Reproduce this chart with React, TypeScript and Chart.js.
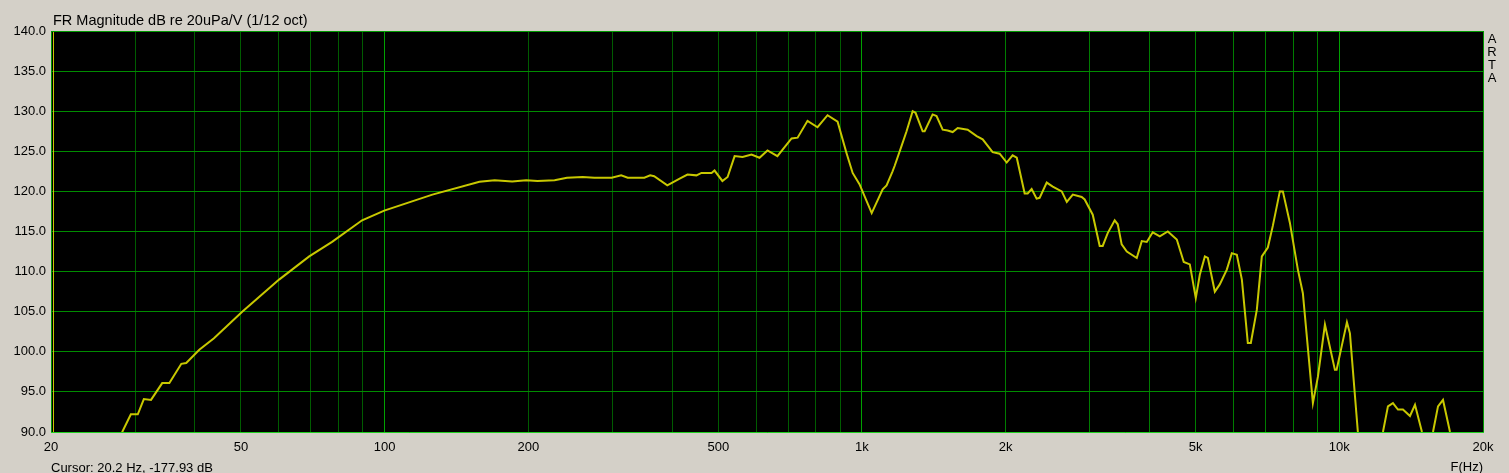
import React, { useEffect, useRef } from 'react';
import { Chart, registerables } from 'chart.js';

Chart.register(...registerables);

const TITLE = 'FR Magnitude dB re 20uPa/V (1/12 oct)';
const CURSOR_TEXT = 'Cursor: 20.2 Hz, -177.93 dB';
const CURSOR_HZ = 20.2;
const X_AXIS_TITLE = 'F(Hz)';
const BRAND_LETTERS = ['A', 'R', 'T', 'A'];

const FREQ_HZ = [
  20, 25, 28.2, 29.4, 30.4, 31.3, 32.4, 34.2, 35.4, 37.5, 38.4, 40.9, 43.9, 50.3, 60.1, 69.5, 77.6, 89.7, 99.8,
  125.9, 158, 170, 185, 198, 209, 227, 241, 260, 275, 299, 313, 323, 350, 360, 367, 391, 415, 431, 450, 461,
  484, 491, 510, 523, 541, 562, 587, 610, 634, 665, 712, 733, 769, 807, 847, 889, 928, 956, 988, 1048, 1105,
  1126, 1159, 1171, 1211, 1240, 1277, 1295, 1340, 1353, 1406, 1433, 1476, 1512, 1549, 1587, 1665, 1739, 1790,
  1878, 1943, 2010, 2068, 2110, 2192, 2224, 2267, 2322, 2356, 2438, 2510, 2621, 2686, 2765, 2886, 2928, 3044,
  3148, 3194, 3272, 3384, 3434, 3500, 3588, 3764, 3856, 3950, 4066, 4206, 4372, 4566, 4722, 4862, 5004, 5102,
  5228, 5304, 5486, 5618, 5812, 5954, 6100, 6250, 6432, 6526, 6718, 6882, 7084, 7256, 7506, 7616, 7878, 8188,
  8388, 8804, 9020, 9330, 9790, 9870, 10374, 10526, 10940, 11600, 12344, 12644, 12952, 13270, 13594, 14062,
  14406, 14900, 15300, 15714, 16098, 16490, 17058, 18000, 20000,
];

const SPL_DB = [
  78, 86, 90.0, 92.2, 92.2, 94.1, 94.0, 96.1, 96.1, 98.5, 98.6, 100.25, 101.7, 105.0, 109.0, 111.9, 113.7, 116.4, 117.6,
  119.6, 121.2, 121.4, 121.25, 121.4, 121.3, 121.4, 121.7, 121.8, 121.7, 121.7, 122.0, 121.7, 121.7, 122.0, 121.9, 120.75, 121.6, 122.1, 122.0, 122.3,
  122.3, 122.6, 121.3, 121.8, 124.4, 124.3, 124.6, 124.2, 125.1, 124.4, 126.6, 126.7, 128.8, 128.0, 129.5, 128.7, 124.8, 122.3, 120.9, 117.3, 120.25,
  120.75, 122.5, 123.2, 125.7, 127.5, 130.0, 129.8, 127.5, 127.5, 129.6, 129.4, 127.7, 127.6, 127.4, 127.9, 127.7, 126.9, 126.5,
  124.9, 124.7, 123.6, 124.5, 124.2, 119.75, 119.75, 120.3, 119.1, 119.2, 121.1, 120.6, 120.0, 118.7, 119.6, 119.3, 119.0, 117.1,
  113.2, 113.2, 114.8, 116.4, 115.9, 113.4, 112.5, 111.7, 113.8, 113.7, 114.9, 114.4, 115.0, 114.0, 111.2, 110.9, 106.7, 109.6,
  111.9, 111.7, 107.5, 108.4, 110.25, 112.3, 112.1, 109.0, 101.1, 101.1, 105.25, 111.9, 113.0, 115.7, 120.0, 120.0, 116.1, 110.25,
  107.3, 93.6, 96.9, 103.4, 97.75, 97.75, 103.7, 102.3, 89.9, 84, 90, 93.2, 93.6, 92.8, 92.8, 92.0,
  93.4, 90, 88, 90, 93.2, 94.0, 90, 85, 80,
];

const Y_MIN = 90;
const Y_MAX = 140;
const Y_STEP = 5;

const X_MIN = 20;
const X_MAX = 20000;
const X_GRID = [
  20, 30, 40, 50, 60, 70, 80, 90,
  100, 200, 300, 400, 500, 600, 700, 800, 900,
  1000, 2000, 3000, 4000, 5000, 6000, 7000, 8000, 9000,
  10000, 20000,
];
const X_LABEL_VALUES = [20, 50, 100, 200, 500, 1000, 2000, 5000, 10000, 20000];
const X_LABEL_TEXT = ['20', '50', '100', '200', '500', '1k', '2k', '5k', '10k', '20k'];
const X_DECADES = [100, 1000, 10000];

const BG = '#d4d0c8';
const PLOT_BG = '#000000';
const CURVE = '#c8c800';
const FONT = '"Liberation Sans", Arial, sans-serif';

function labelFor(v: number): string {
  const i = X_LABEL_VALUES.findIndex((l) => Math.abs(l - v) < 1e-6 * l);
  return i >= 0 ? X_LABEL_TEXT[i] : '';
}

function vGridColor(v: number): string {
  if (X_DECADES.some((d) => Math.abs(d - v) < 1e-6 * d)) return '#00a000';
  if (v > 1000) return '#007c00';
  return '#005c00';
}

export default function App() {
  const ref = useRef<HTMLCanvasElement | null>(null);

  useEffect(() => {
    if (!ref.current) return;
    const framePlugin = {
      id: 'artaFrame',
      beforeDraw(chart: any) {
        const { ctx, chartArea: a, width, height } = chart;
        ctx.save();
        ctx.fillStyle = BG;
        ctx.fillRect(0, 0, width, height);
        ctx.fillStyle = PLOT_BG;
        ctx.fillRect(a.left, a.top, a.right - a.left, a.bottom - a.top);
        ctx.restore();
      },
      afterDraw(chart: any) {
        const { ctx, chartArea: a } = chart;
        ctx.save();
        ctx.lineWidth = 1;
        ctx.strokeStyle = '#009a00';
        ctx.beginPath();
        ctx.moveTo(a.left + 0.5, a.bottom);
        ctx.lineTo(a.left + 0.5, a.top + 0.5);
        ctx.lineTo(a.right + 0.5, a.top + 0.5);
        ctx.lineTo(a.right + 0.5, a.bottom);
        ctx.stroke();
        ctx.strokeStyle = '#20d020';
        ctx.beginPath();
        ctx.moveTo(a.left, a.bottom + 0.5);
        ctx.lineTo(a.right + 1, a.bottom + 0.5);
        ctx.stroke();

        // cursor
        const cx = Math.round(chart.scales.x.getPixelForValue(CURSOR_HZ)) + 0.5;
        ctx.strokeStyle = CURVE;
        ctx.beginPath();
        ctx.moveTo(cx, a.top + 1);
        ctx.lineTo(cx, a.bottom);
        ctx.stroke();

        ctx.fillStyle = '#000000';
        ctx.textBaseline = 'alphabetic';
        ctx.textAlign = 'left';
        ctx.font = `14.5px ${FONT}`;
        ctx.fillText(TITLE, 53, 25);
        ctx.font = `13px ${FONT}`;
        ctx.fillText(CURSOR_TEXT, 51, 472);
        ctx.textAlign = 'right';
        ctx.fillText(X_AXIS_TITLE, 1483, 471);
        ctx.textAlign = 'center';
        BRAND_LETTERS.forEach((ch, i) => {
          ctx.fillText(ch, 1492, 43 + i * 13);
        });
        ctx.restore();
      },
    };

    const chart = new Chart(ref.current, {
      type: 'line',
      data: {
        datasets: [
          {
            data: FREQ_HZ.map((f, i) => ({ x: f, y: SPL_DB[i] })),
            borderColor: CURVE,
            borderWidth: 2,
            pointRadius: 0,
            tension: 0,
            fill: false,
            clip: 0,
          },
        ],
      },
      options: {
        responsive: false,
        animation: false,
        devicePixelRatio: 1,
        events: [],
        layout: { padding: { left: 0, right: 26, top: 31, bottom: 0 } },
        plugins: { legend: { display: false }, tooltip: { enabled: false }, title: { display: false } },
        scales: {
          x: {
            type: 'logarithmic',
            min: X_MIN,
            max: X_MAX,
            afterBuildTicks: (scale: any) => {
              scale.ticks = X_GRID.map((v) => ({ value: v }));
            },
            afterFit: (scale: any) => {
              scale.height = 41;
            },
            ticks: {
              autoSkip: false,
              maxRotation: 0,
              minRotation: 0,
              padding: 8,
              color: '#000000',
              font: { family: FONT, size: 13 },
              callback: (v: any) => labelFor(Number(v)),
            },
            grid: {
              drawTicks: false,
              lineWidth: 1,
              color: (c: any) => vGridColor(c.tick ? c.tick.value : 0),
            },
            border: { display: false },
          },
          y: {
            type: 'linear',
            min: Y_MIN,
            max: Y_MAX,
            afterFit: (scale: any) => {
              scale.width = 51;
            },
            ticks: {
              stepSize: Y_STEP,
              padding: 5,
              color: '#000000',
              font: { family: FONT, size: 13 },
              callback: (v: any) => Number(v).toFixed(1),
            },
            grid: { drawTicks: false, lineWidth: 1, color: '#008c00' },
            border: { display: false },
          },
        },
      },
      plugins: [framePlugin],
    } as any);

    return () => chart.destroy();
  }, []);

  return (
    <div style={{ position: 'fixed', left: 0, top: 0, width: 1509, height: 473, background: BG }}>
      <canvas ref={ref} width={1509} height={473} style={{ display: 'block', width: 1509, height: 473 }} />
    </div>
  );
}
